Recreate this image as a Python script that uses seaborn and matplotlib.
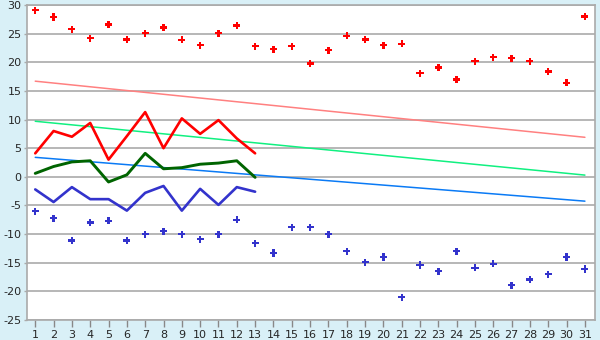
import matplotlib
matplotlib.use("Agg")
import matplotlib.pyplot as plt
import seaborn as sns
import pandas as pd

days = list(range(1, 32))
max_points = [29.1, 27.9, 25.8, 24.2, 26.6, 24.0, 25.1, 26.1, 23.9, 23.0,
              25.1, 26.4, 22.8, 22.3, 22.8, 19.8, 22.1, 24.6, 24.0, 23.0,
              23.2, 18.1, 19.1, 17.0, 20.2, 20.9, 20.7, 20.2, 18.4, 16.4, 28.0]
min_points = [-6.0, -7.2, -11.1, -8.0, -7.7, -11.1, -10.0, -9.5, -10.0, -10.9,
              -10.0, -7.5, -11.6, -13.3, -8.8, -8.8, -10.0, -13.0, -14.9, -14.0,
              -21.0, -15.4, -16.5, -13.0, -15.9, -15.2, -18.9, -17.9, -17.0, -14.0, -16.1]
line_days = list(range(1, 14))
max_line = [4.1, 8.0, 7.0, 9.4, 3.0, 7.1, 11.3, 5.0, 10.2, 7.5, 9.9, 6.7, 4.1]
mean_line = [0.6, 1.8, 2.6, 2.8, -0.9, 0.35, 4.1, 1.4, 1.6, 2.2, 2.4, 2.8, -0.1]
min_line = [-2.2, -4.4, -1.8, -3.9, -3.9, -5.9, -2.8, -1.6, -5.9, -2.1, -4.9, -1.8, -2.6]
trend_days = [1, 31]
trend_max = [16.7, 6.9]
trend_mean = [9.7, 0.3]
trend_min = [3.4, -4.25]
y_ticks = [30, 25, 20, 15, 10, 5, 0, -5, -10, -15, -20, -25]

sns.set_theme(style="white")
plt.rcParams['font.family'] = ['DejaVu Sans']

bg = "#D9F0F7"
fig = plt.figure(figsize=(6.0, 3.4), dpi=100, facecolor=bg)
ax = fig.add_axes([27/600, 1-320/340, (595-27)/600, (320-5)/340])
ax.set_facecolor("white")

for yv in y_ticks:
    ax.axhline(yv, color="#AAAAAA", lw=1.2, zorder=0)

sns.lineplot(x=trend_days, y=trend_max, ax=ax, color="#FF8080", lw=1.1, zorder=2)
sns.lineplot(x=trend_days, y=trend_mean, ax=ax, color="#10F080", lw=1.1, zorder=2)
sns.lineplot(x=trend_days, y=trend_min, ax=ax, color="#0A7AF5", lw=1.1, zorder=2)

sns.lineplot(x=line_days, y=max_line, ax=ax, color="#FF0000", lw=1.9, zorder=3)
sns.lineplot(x=line_days, y=mean_line, ax=ax, color="#006400", lw=2.1, zorder=3)
sns.lineplot(x=line_days, y=min_line, ax=ax, color="#3333CC", lw=1.9, zorder=3)

sns.scatterplot(x=days, y=max_points, ax=ax, color="#FF0000", marker="P", s=26,
                edgecolor="none", zorder=4)
sns.scatterplot(x=days, y=min_points, ax=ax, color="#3333CC", marker="P", s=26,
                edgecolor="none", zorder=4)

ax.set_xlim(0.55, 31.55)
ax.set_ylim(-25, 30)
ax.set_xticks(days)
ax.set_xticklabels([str(d) for d in days])
ax.set_yticks(y_ticks)
ax.set_yticklabels([str(v) for v in y_ticks])
ax.tick_params(axis="x", direction="out", length=5, width=1, color="#888888",
               labelsize=8, pad=2, bottom=True)
ax.tick_params(axis="y", direction="out", length=2, width=1, color="#AAAAAA",
               labelsize=8, pad=2, left=True)
for s in ax.spines.values():
    s.set_color("#AAAAAA")
    s.set_linewidth(1.2)
ax.set_xlabel("")
ax.set_ylabel("")

fig.savefig("out.png", dpi=100, facecolor=bg)
